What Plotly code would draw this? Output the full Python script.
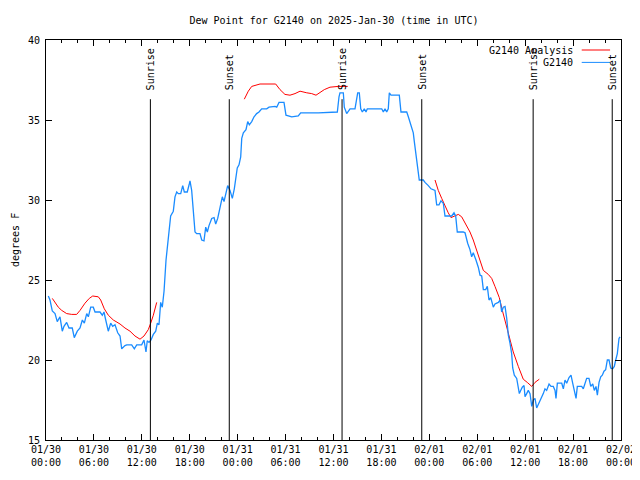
import pandas as pd
import plotly.graph_objects as go

START = pd.Timestamp("2025-01-30 00:00")

# ---- data (hours since 01/30 00:00 UTC, dew point degF) ----
obs_hours = [0.29, 0.50, 0.79, 1.13, 1.41, 1.75, 2.04, 2.25, 2.59, 2.88, 3.29, 3.54, 3.92, 4.26, 4.55, 4.80,
             5.10, 5.30, 5.60, 5.92, 6.14, 6.76, 7.05, 7.26, 7.48, 7.80, 8.10, 8.35, 8.64, 8.98, 9.27, 9.48,
             9.89, 10.11, 10.73, 11.06, 11.36, 11.98, 12.27, 12.52, 12.68, 12.90, 13.15, 13.44, 13.74, 13.94,
             14.15, 14.36, 14.56, 14.78, 15.03, 15.31, 15.61, 15.94, 16.15, 16.37, 16.57, 16.87, 17.12, 17.32,
             17.69, 17.94, 18.03, 18.24, 18.44, 18.66, 18.87, 19.28, 19.50, 19.78, 20.00, 20.20, 20.41, 20.75,
             21.04, 21.25, 21.50, 21.79, 22.08, 22.29, 22.50, 22.75, 23.04, 23.33, 23.58, 23.75, 23.95, 24.17,
             24.38, 24.51, 24.71, 25.04, 25.26, 25.46, 25.76, 26.05, 26.38, 26.67, 27.01, 27.64, 27.92, 28.68,
             28.89, 29.18, 29.80, 30.05, 30.77, 31.59, 31.89, 34.10, 36.48, 36.69, 36.81, 37.23, 37.35, 37.65,
             38.07, 38.69, 38.91, 39.03, 39.23, 39.41, 39.61, 39.86, 40.07, 40.23, 42.04, 42.24, 42.45, 42.66,
             42.86, 42.99, 43.20, 44.24, 44.45, 45.17, 45.37, 45.58, 45.79, 45.99, 46.12, 46.29, 46.42, 46.54,
             46.74, 47.24, 47.46, 47.87, 48.21, 48.71, 48.92, 49.21, 49.46, 49.75, 49.96, 50.80, 51.09, 51.30,
             51.50, 52.25, 52.47, 52.80, 53.09, 53.30, 53.50, 53.84, 54.13, 54.35, 54.56, 54.76, 55.06, 55.26,
             55.47, 55.69, 56.01, 56.22, 56.64, 56.85, 57.06, 57.26, 57.48, 57.69, 57.89, 58.10, 58.31, 58.44,
             58.64, 58.94, 59.15, 59.27, 59.44, 59.64, 59.86, 59.98, 60.19, 60.39, 60.61, 60.82, 61.02, 61.23,
             61.44, 61.73, 61.98, 62.27, 62.48, 62.69, 62.99, 63.24, 63.52, 63.74, 63.86, 64.03, 64.58, 64.78,
             64.99, 65.20, 65.49, 65.74, 65.95, 66.15, 66.37, 66.53, 67.08, 67.28, 67.49, 67.70, 67.99, 68.21,
             68.46, 68.66, 68.87, 69.04, 69.25, 69.46, 69.66, 69.87, 70.08, 70.29, 70.50, 70.71, 70.96, 71.16,
             71.34, 71.54, 71.75, 71.88]
obs_dewpt = [24.0, 23.75, 23.06, 22.9, 22.4, 22.7, 21.8, 22.1, 22.35, 22.0, 22.0, 21.4, 21.8, 22.0, 22.5, 22.3,
             22.9, 22.7, 23.3, 23.3, 23.0, 23.0, 22.8, 23.0, 22.5, 21.8, 22.3, 22.1, 22.2, 21.7, 21.5, 20.7,
             20.9, 20.95, 20.95, 20.7, 20.95, 20.95, 21.25, 20.5, 21.2, 21.1, 21.25, 21.6, 21.8, 22.3,
             22.2, 23.6, 23.3, 24.3, 26.25, 27.6, 29.0, 29.3, 30.2, 30.5, 30.4, 30.4, 30.9, 30.5,
             30.5, 31.0, 31.2, 30.6, 29.3, 28.0, 27.9, 27.9, 27.5, 27.45, 28.3, 28.0, 28.4, 28.85,
             28.9, 28.5, 28.85, 29.6, 30.2, 29.9, 30.3, 30.9, 30.6, 30.1, 30.7, 31.45, 32.0, 32.2,
             32.7, 33.85, 34.2, 34.4, 34.9, 34.7, 34.9, 35.2, 35.4, 35.5, 35.7, 35.7, 35.8, 35.85,
             35.8, 36.1, 36.1, 35.3, 35.2, 35.25, 35.45, 35.45, 35.5, 36.45, 36.7, 36.7, 35.8, 35.4,
             35.7, 35.7, 36.45, 36.7, 36.7, 35.7, 35.5, 35.7, 35.5, 35.7, 35.7, 35.5, 35.7, 35.5,
             35.7, 36.7, 36.55, 36.55, 35.5, 35.5, 35.2, 34.8, 34.4, 34.2, 33.65, 33.0, 32.5, 32.0,
             31.25, 31.25, 31.1, 30.9, 30.7, 30.6, 29.7, 29.7, 29.95, 29.8, 29.0, 29.0, 29.2, 29.0,
             28.0, 28.0, 27.95, 27.3, 26.9, 26.45, 26.7, 26.25, 25.8, 25.3, 25.25, 24.4, 24.4, 24.6,
             23.75, 23.9, 23.3, 23.5, 23.6, 23.75, 23.0, 23.3, 23.35, 22.6, 21.55, 21.05, 20.4, 19.5,
             19.05, 18.85, 18.3, 17.9, 18.1, 18.3, 18.4, 17.7, 17.9, 18.1, 17.9, 17.1, 17.5, 17.6,
             17.0, 17.3, 17.6, 17.9, 18.2, 18.1, 18.5, 18.35, 18.35, 18.1, 17.6, 18.55, 18.55, 18.2,
             18.75, 18.55, 18.9, 19.05, 18.55, 18.1, 17.6, 18.35, 18.35, 18.2, 18.55, 18.85, 18.85, 18.35,
             18.5, 18.1, 18.35, 17.8, 18.6, 18.95, 19.05, 19.3, 19.4, 20.0, 20.0, 19.5, 19.45, 19.6,
             20.0, 20.4, 21.35, 21.45]

ana_hours = [0.79, 1.13, 1.54, 1.97, 2.59, 3.22, 3.84, 4.26, 4.88, 5.42, 5.85, 6.55, 6.85, 7.30, 7.80, 8.43,
             9.27, 9.89, 10.52, 11.14, 11.77, 12.27, 12.81, 13.11, 13.44, 13.86, None,
             24.83, 25.33, 25.76, 26.38, 26.80, 28.76, 29.30, 29.92, 30.55, 31.18, 31.81, 32.65, 33.27, 33.81,
             34.31, 34.85, 35.56, 36.60, 37.78, None,
             48.71, 49.12, 49.55, 49.96, 50.37, 50.71, 51.12, 51.63, 52.05, 52.68, 53.09, 53.50, 53.93, 54.35,
             54.76, 55.38, 55.81, 56.22, 56.76, 57.14, 57.60, 58.01, 58.51, 59.14, 59.76, 60.26, 60.82, 61.23,
             61.77]
ana_dewpt = [23.85, 23.6, 23.3, 23.1, 22.9, 22.85, 22.85, 23.1, 23.55, 23.85, 24.0, 23.95, 23.75, 23.2, 22.8, 22.5,
             22.25, 22.0, 21.8, 21.5, 21.3, 21.5, 21.9, 22.3, 22.8, 23.6, None,
             36.3, 36.8, 37.1, 37.2, 37.25, 37.25, 36.9, 36.6, 36.55, 36.65, 36.8, 36.7, 36.65, 36.55,
             36.7, 36.9, 37.05, 37.1, 37.1, None,
             31.25, 30.6, 30.1, 29.6, 29.2, 28.9, 29.0, 29.1, 28.95, 28.4, 28.0, 27.5, 26.8, 26.15,
             25.6, 25.35, 25.1, 24.6, 23.9, 23.1, 22.2, 21.35, 20.5, 19.6, 18.8, 18.6, 18.35, 18.6,
             18.8]

sun_hours = [13.07, 22.95, 37.07, 47.05, 61.0, 70.9]
sun_labels = ["Sunrise", "Sunset", "Sunrise", "Sunset", "Sunrise", "Sunset"]

series_names = ["G2140 Analysis", "G2140"]
series_colors = ["#ff0000", "#1a8cff"]


def to_time(hours):
    return [None if h is None else START + pd.Timedelta(hours=h) for h in hours]


FONT = "DejaVu Sans Mono"
FIG_W, FIG_H = 632, 472   # page body adds an 8px offset

fig = go.Figure()
fig.add_trace(go.Scatter(x=to_time(ana_hours), y=ana_dewpt, mode="lines", name=series_names[0],
                         line=dict(color=series_colors[0], width=1), connectgaps=False, showlegend=False))
fig.add_trace(go.Scatter(x=to_time(obs_hours), y=obs_dewpt, mode="lines", name=series_names[1],
                         line=dict(color=series_colors[1], width=1.3), showlegend=False))

shapes = []
annotations = []
for t, lab in zip(to_time(sun_hours), sun_labels):
    shapes.append(dict(type="line", xref="x", yref="y", x0=t, x1=t, y0=15, y1=36.3,
                       line=dict(color="black", width=1)))
    annotations.append(dict(x=t, y=36.75, xref="x", yref="y", text=lab, showarrow=False,
                            textangle=-90, xanchor="center", yanchor="bottom",
                            font=dict(family=FONT, size=10, color="black")))

# legend (text then line sample, top right)
leg_rows = [0.975, 0.944]
for name, color, yy in zip(series_names, series_colors, leg_rows):
    annotations.append(dict(x=0.92, y=yy, xref="paper", yref="paper", text=name, showarrow=False,
                            xanchor="right", yanchor="middle",
                            font=dict(family=FONT, size=10, color="black")))
    shapes.append(dict(type="line", xref="paper", yref="paper", x0=0.9317, x1=0.981, y0=yy, y1=yy,
                       line=dict(color=color, width=1)))

# y-axis title
annotations.append(dict(x=(15 - 46) / 575, y=0.5, xref="paper", yref="paper", text="degrees F", showarrow=False,
                        textangle=-90, xanchor="center", yanchor="middle",
                        font=dict(family=FONT, size=10, color="black")))

fig.update_layout(
    width=FIG_W, height=FIG_H,
    margin=dict(l=38, r=19, t=32, b=40, autoexpand=False),
    paper_bgcolor="white", plot_bgcolor="white",
    font=dict(family=FONT, size=10, color="black"),
    title=dict(text="Dew Point for G2140 on 2025-Jan-30 (time in UTC)", x=(334 - 8) / FIG_W, xanchor="center",
               y=1 - 12 / FIG_H, yanchor="middle", font=dict(family=FONT, size=10, color="black")),
    shapes=shapes, annotations=annotations,
)
fig.update_xaxes(
    type="date", range=[START, START + pd.Timedelta(hours=72)], automargin=False,
    dtick=6 * 3600 * 1000, tick0=START, tickformat="%m/%d<br>%H:%M",
    ticks="inside", ticklen=6, tickcolor="black", showgrid=False, zeroline=False,
    showline=True, linecolor="black", linewidth=1, mirror="allticks",
    minor=dict(dtick=2 * 3600 * 1000, ticks="inside", ticklen=3, tickcolor="black", showgrid=False),
    tickfont=dict(family=FONT, size=10, color="black"),
)
fig.update_yaxes(
    range=[15, 40], dtick=5, ticks="inside", ticklen=6, tickcolor="black", automargin=False,
    showgrid=False, zeroline=False, showline=True, linecolor="black", linewidth=1, mirror="allticks",
    ticklabelstandoff=3,
    tickfont=dict(family=FONT, size=10, color="black"),
)

fig.write_html("out.html")
